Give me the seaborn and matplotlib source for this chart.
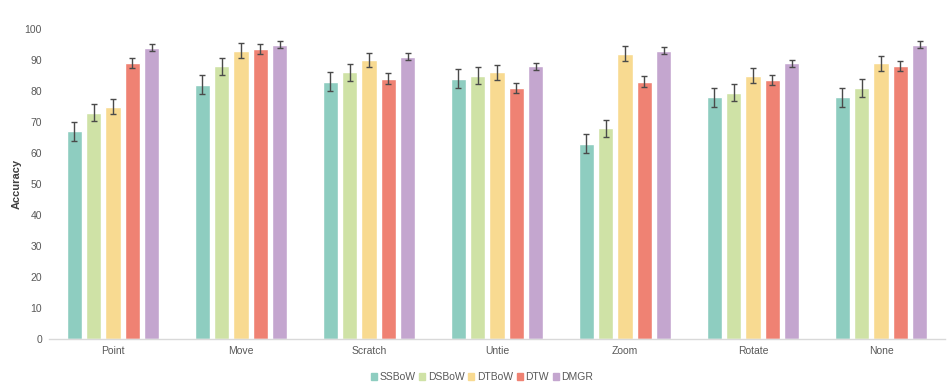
import matplotlib
matplotlib.use("Agg")
import matplotlib.pyplot as plt
import seaborn as sns
import pandas as pd
import numpy as np

categories = ["Point", "Move", "Scratch", "Untie", "Zoom", "Rotate", "None"]
series = ["SSBoW", "DSBoW", "DTBoW", "DTW", "DMGR"]
ssbow = [67, 82, 83, 84, 63, 78, 78]
dsbow = [73, 88, 86, 85, 68, 79.5, 81]
dtbow = [75, 93, 90, 86, 92, 85, 89]
dtw = [89, 93.5, 84, 81, 83, 83.5, 88]
dmgr = [94, 95, 91, 88, 93, 89, 95]
errors = {"SSBoW": 3.1, "DSBoW": 2.8, "DTBoW": 2.4, "DTW": 1.7, "DMGR": 1.1}
colors = ["#8ecdc0", "#cfe2a6", "#f8da91", "#ef8273", "#c4a6cf"]

values = {"SSBoW": ssbow, "DSBoW": dsbow, "DTBoW": dtbow, "DTW": dtw, "DMGR": dmgr}
rows = []
for s in series:
    for c, v in zip(categories, values[s]):
        rows.append({"Gesture": c, "Method": s, "Accuracy": v, "err": errors[s]})
df = pd.DataFrame(rows)

sns.set_theme(style="white")
plt.rcParams["font.family"] = ["Liberation Sans", "DejaVu Sans"]

fig = plt.figure(figsize=(9.47, 3.87), dpi=100)
ax = fig.add_axes([49 / 947, 1 - 339 / 387, 896 / 947, 310 / 387])

sns.barplot(data=df, x="Gesture", y="Accuracy", hue="Method", order=categories,
            hue_order=series, palette=colors, width=0.755, gap=0.2,
            errorbar=None, saturation=1, ax=ax, legend=True)

# error bars at bar centres
for container, s in zip(ax.containers, series):
    for bar, c in zip(container, categories):
        xc = bar.get_x() + bar.get_width() / 2
        h = bar.get_height()
        ax.errorbar(xc, h, yerr=errors[s], fmt="none", ecolor="#4a4a4a",
                    elinewidth=1.0, capsize=2.5, capthick=1.0, zorder=5)

ax.set_xlim(-0.5, 6.5)
ax.set_ylim(0, 100)
ax.set_yticks(range(0, 101, 10))
ax.set_xlabel("")
ax.set_ylabel("Accuracy", fontsize=8, fontweight="bold", color="#404040", labelpad=2)
ax.tick_params(axis="both", labelsize=7.5, colors="#595959", length=0, pad=5)
for sp in ["top", "right", "left"]:
    ax.spines[sp].set_visible(False)
ax.spines["bottom"].set_color("#d9d9d9")
ax.spines["bottom"].set_linewidth(1)

ax.legend_.remove()
handles = [plt.Rectangle((0, 0), 1, 1, color=col) for col in colors]
fig.legend(handles, series, loc="center", bbox_to_anchor=(482 / 947, 1 - 377 / 387),
           ncol=5, frameon=False, fontsize=7.5, handlelength=0.6, handleheight=0.6,
           handletextpad=0.25, columnspacing=0.35, labelcolor="#595959")

fig.savefig("out.png", dpi=100)
